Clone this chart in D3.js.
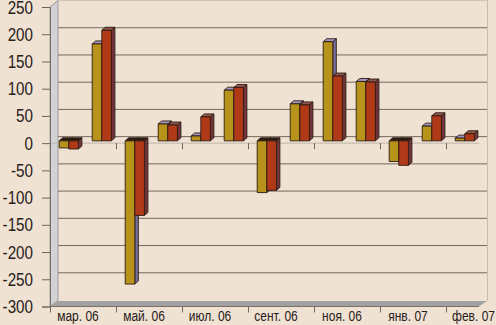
<!DOCTYPE html>
<html>
<head>
<meta charset="utf-8">
<script src="https://cdn.jsdelivr.net/npm/d3@7/dist/d3.min.js"></script>
<style>
  html, body { margin: 0; padding: 0; background: #f0e2d2; }
  svg { display: block; }
  text { font-family: "Liberation Sans", sans-serif; fill: #26201a; }
</style>
</head>
<body>
<svg id="chart" width="496" height="325"></svg>
<script>
// values, one entry per column group
const groups = d3.range(13);
const seriesA = [-13, 178, -263, 31, 9, 93, -95, 68, 182, 109, -38, 27, 5];
const seriesB = [-15, 203, -137, 29, 44, 98, -91, 66, 119, 108, -45, 46, 13];
const yTicks = [250, 200, 150, 100, 50, 0, -50, -100, -150, -200, -250, -300];
const gridValues = [200, 150, 100, 50, 0, -50, -100, -150, -200, -250];
const tickGroups = [0, 2, 4, 6, 8, 10, 12];
const tickLabels = ['мар. 06', 'май. 06', 'июл. 06', 'сент. 06', 'ноя. 06', 'янв. 07', 'фев. 07'];

const svg = d3.select('#chart');
const L = 50, R = 479, BACK = { x: 8, y: -6.5 };
const y = d3.scaleLinear().domain([-300, 250]).range([306.5, 7]);
const x = d3.scaleLinear().domain([0, 13]).range([L, R]);
const line = d3.line();

const styles = [
  { front: '#b8931c', side: '#77709c', top: '#a597c4' },
  { front: '#b03a18', side: '#70343a', top: '#94564e' },
];

// walls + floor
svg.append('polygon').attr('fill', '#d2d2d4').attr('stroke', '#8d8d8d').attr('stroke-width', 0.8)
  .attr('points', [[L, y(250)], [L + BACK.x, y(250) + BACK.y], [L + BACK.x, y(-300) + BACK.y], [L, y(-300)]].join(' '));
svg.append('polygon').attr('fill', '#a2a2a0')
  .attr('points', [[L, y(-300)], [L + BACK.x, y(-300) + BACK.y + 1], [R + BACK.x, y(-300) + BACK.y + 1], [R, y(-300)]].join(' '));
svg.append('line').attr('x1', R + BACK.x + 0.5).attr('x2', R + BACK.x + 0.5)
  .attr('y1', 0).attr('y2', y(-300) + BACK.y + 1).attr('stroke', '#c9bbad');
svg.append('line').attr('x1', L + BACK.x).attr('x2', R + BACK.x)
  .attr('y1', 0.5).attr('y2', 0.5).attr('stroke', '#cfc6bb');

// gridlines on the back wall
svg.append('g').selectAll('line').data(gridValues).join('line')
  .attr('x1', L + BACK.x).attr('x2', R + BACK.x)
  .attr('y1', d => y(d) + BACK.y).attr('y2', d => y(d) + BACK.y)
  .attr('stroke', '#75695e').attr('stroke-width', 1);

// front zero line, faint
svg.append('line').attr('x1', L).attr('x2', R).attr('y1', y(0)).attr('y2', y(0))
  .attr('stroke', '#bdb5ab').attr('stroke-width', 1);

// axes, no narrow face installed so the labels get squeezed by hand
const gy = svg.append('g').attr('transform', `translate(${L},0)`)
  .call(d3.axisLeft(y).tickValues(yTicks).tickSize(8).tickFormat(''));
gy.select('.domain').attr('stroke', '#77706a');
gy.selectAll('.tick line').attr('stroke', '#6c655e');

svg.append('g').selectAll('text').data(yTicks).join('text')
  .attr('transform', d => `translate(33,${y(d) + 6.5}) scale(0.8,1)`)
  .attr('text-anchor', 'end')
  .attr('font-size', 19)
  .text(d => d);

[y(0), y(-300)].forEach(py => {
  const gx = svg.append('g').attr('transform', `translate(0,${py})`)
    .call(d3.axisBottom(x).tickValues(tickGroups).tickSize(6).tickFormat(''));
  gx.select('.domain').remove();
  gx.selectAll('.tick line').attr('stroke', '#6c655e');
});
svg.append('line').attr('x1', L).attr('x2', R).attr('y1', y(-300)).attr('y2', y(-300)).attr('stroke', '#77706a');

svg.append('g').selectAll('text').data(tickLabels).join('text')
  .attr('transform', (d, i) => `translate(${i === tickLabels.length - 1 ? 495 : x(tickGroups[i]) + 28},321) scale(0.8,1)`)
  .attr('text-anchor', (d, i) => i === tickLabels.length - 1 ? 'end' : 'middle')
  .attr('font-size', 15)
  .text(d => d);

// 3d columns
const BASE_DY = -2.3, DX = 3.5, DY = -3, W = 9.6;
const bars = svg.append('g').attr('stroke', '#2b1c12').attr('stroke-width', 0.9).attr('stroke-linejoin', 'round');

function drawBar(i, value, k) {
  const st = styles[k];
  const x0 = x(i) + 9.2 + k * W, x1 = x0 + W;
  const yv = y(value) + BASE_DY, yz = y(0) + BASE_DY;
  const top = Math.min(yv, yz), bot = Math.max(yv, yz);
  bars.append('path').attr('fill', st.side)
    .attr('d', line([[x1, top], [x1 + DX, top + DY], [x1 + DX, bot + DY], [x1, bot]]) + 'Z');
  bars.append('path').attr('fill', value < 0 ? '#2b1c12' : st.top)
    .attr('d', line([[x0, top], [x0 + DX, top + DY], [x1 + DX, top + DY], [x1, top]]) + 'Z');
  bars.append('rect').attr('fill', st.front)
    .attr('x', x0).attr('y', top).attr('width', W).attr('height', bot - top);
}

groups.forEach(i => {
  drawBar(i, seriesA[i], 0);
  drawBar(i, seriesB[i], 1);
});
</script>
</body>
</html>
